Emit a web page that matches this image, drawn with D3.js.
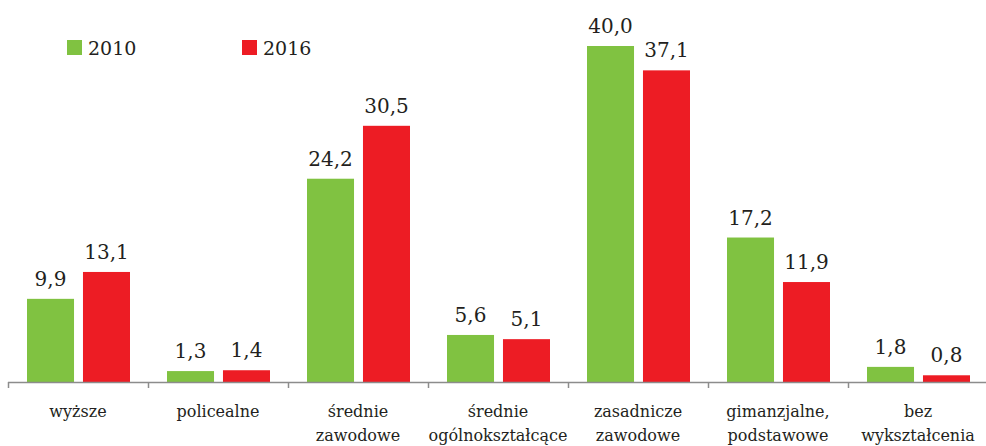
<!DOCTYPE html>
<html>
<head>
<meta charset="utf-8">
<script src="https://cdn.jsdelivr.net/npm/d3@7"></script>
<style>
	body { margin: 0; background: #fff; }
	text { fill: #231f20; }
</style>
</head>
<body>
<div id="canvas"></div>
<script>
const categories = [
	["wyższe"],
	["policealne"],
	["średnie", "zawodowe"],
	["średnie", "ogólnokształcące"],
	["zasadnicze", "zawodowe"],
	["gimanzjalne,", "podstawowe"],
	["bez", "wykształcenia"]
];
const seriesNames = ["2010", "2016"];
const values2010 = [9.9, 1.3, 24.2, 5.6, 40.0, 17.2, 1.8];
const values2016 = [13.1, 1.4, 30.5, 5.1, 37.1, 11.9, 0.8];
const colors = ["#80c241", "#ed1c24"];
const FONT = "DejaVu Serif";

const W = 986, H = 446;
const svg = d3.select("#canvas").append("svg").attr("width", W).attr("height", H)
	.style("font-family", FONT);

const x0 = d3.scaleBand().domain(d3.range(categories.length)).range([8, 988]);
const x1 = d3.scaleBand().domain([0, 1]).range([19, 122]).paddingInner(0.16);
const y = d3.scaleLinear().domain([0, 40]).range([382, 46]);

const fmt = v => d3.format(".1f")(v).replace(".", ",");

const groups = svg.selectAll("g.grp")
	.data(categories.map((c, i) => ({ c, i, vals: [values2010[i], values2016[i]] })))
	.join("g").attr("class", "grp")
	.attr("transform", d => `translate(${x0(d.i)},0)`);

groups.selectAll("rect")
	.data(d => d.vals)
	.join("rect")
	.attr("x", (v, j) => x1(j))
	.attr("width", x1.bandwidth())
	.attr("y", v => y(v))
	.attr("height", v => y(0) - y(v))
	.attr("fill", (v, j) => colors[j]);

groups.selectAll("text.val")
	.data(d => d.vals)
	.join("text").attr("class", "val")
	.attr("x", (v, j) => x1(j) + x1.bandwidth() / 2)
	.attr("y", v => y(v) - 13)
	.attr("text-anchor", "middle")
	.attr("font-size", 20)
	.text(fmt);

// axis line with ticks between groups
svg.append("line")
	.attr("x1", 8).attr("x2", W).attr("y1", 382.5).attr("y2", 382.5)
	.attr("stroke", "#8c8c8c").attr("stroke-width", 1.5);
svg.selectAll("line.tick")
	.data(d3.range(categories.length))
	.join("line").attr("class", "tick")
	.attr("x1", i => x0(i) + 0.5).attr("x2", i => x0(i) + 0.5)
	.attr("y1", 382).attr("y2", 388)
	.attr("stroke", "#8c8c8c").attr("stroke-width", 1.5);

// category labels
groups.append("text")
	.attr("text-anchor", "middle")
	.attr("font-size", 16)
	.selectAll("tspan")
	.data(d => d.c)
	.join("tspan")
	.attr("x", x0.bandwidth() / 2)
	.attr("y", (t, k) => 417 + k * 24)
	.text(t => t);

// legend
const legend = svg.selectAll("g.leg")
	.data(seriesNames)
	.join("g").attr("class", "leg")
	.attr("transform", (d, i) => `translate(${67 + i * 175},40)`);
legend.append("rect").attr("width", 15).attr("height", 15).attr("fill", (d, i) => colors[i]);
legend.append("text").attr("x", 21).attr("y", 15).attr("font-size", 19).text(d => d);
</script>
</body>
</html>
